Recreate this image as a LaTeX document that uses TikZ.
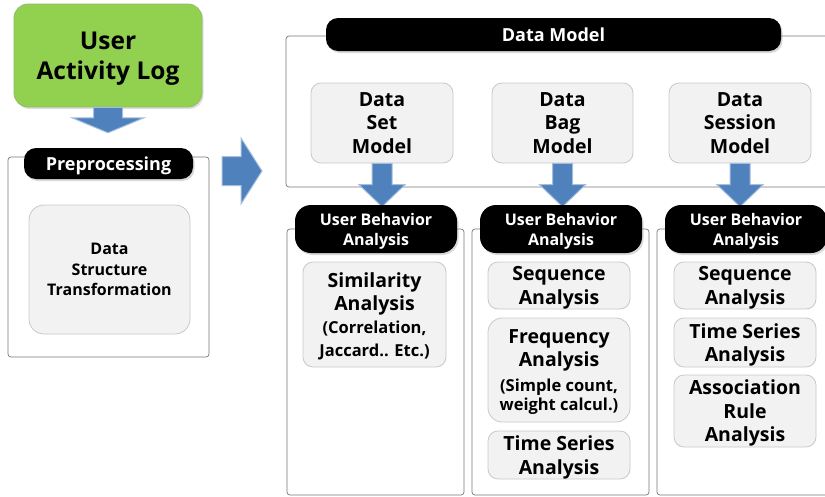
\documentclass[tikz,border=0pt]{standalone}
\usepackage{fontspec}
\setmainfont{Open Sans}
\usetikzlibrary{calc,shadows}
\definecolor{loggreen}{RGB}{146,208,80}
\definecolor{logedge}{RGB}{150,185,110}
\definecolor{arrowblue}{RGB}{79,129,189}
\definecolor{arrowedge}{RGB}{165,190,222}
\definecolor{itemfill}{RGB}{242,242,242}
\definecolor{itemedge}{RGB}{200,200,200}
\definecolor{frameedge}{RGB}{120,120,120}
% font sizes (1pt = 1px of the target)
\newcommand{\bigtxt}{\fontsize{24.5}{30}\selectfont\bfseries}
\newcommand{\boxtxt}{\fontsize{19.5}{23.5}\selectfont\bfseries}
\newcommand{\midtxt}{\fontsize{16}{20.5}\selectfont\bfseries}
\newcommand{\subtxt}{\fontsize{16.5}{20}\selectfont\bfseries}
% block arrows between nodes
\newcommand{\blockdown}[5]{%
  \path[blockarrow] let \p1=(#1), \p2=(#2) in
    (\x1-#3,\y1) -- (\x1+#3,\y1) -- (\x1+#3,\y2+#5) -- (\x1+#4,\y2+#5)
    -- (\x1,\y2) -- (\x1-#4,\y2+#5) -- (\x1-#3,\y2+#5) -- cycle;}
\newcommand{\blockright}[5]{%
  \path[blockarrow] let \p1=(#1), \p2=(#2) in
    (\x1,\y1+#3) -- (\x2-#5,\y1+#3) -- (\x2-#5,\y1+#4) -- (\x2,\y1)
    -- (\x2-#5,\y1-#4) -- (\x2-#5,\y1-#3) -- (\x1,\y1-#3) -- cycle;}
\tikzset{
  % green source box
  logbox/.style={draw=logedge, fill=loggreen, rounded corners=14pt,
    line width=0.8pt, inner sep=0pt, align=center, font=\bigtxt,
    text depth=0pt,
    drop shadow={opacity=0.25, shadow xshift=1.5pt, shadow yshift=-2pt}},
  % black title pills
  titlepill/.style={fill=black, text=white, rounded corners=12pt,
    inner sep=0pt, align=center, font=\fontsize{18}{21}\selectfont\bfseries,
    text depth=0pt,
    drop shadow={opacity=0.3, shadow xshift=1.5pt, shadow yshift=-2pt}},
  ubapill/.style={titlepill, rounded corners=16pt,
    font=\fontsize{16}{20}\selectfont\bfseries,
    minimum width=162pt, minimum height=48pt},
  % thin grey frames
  framebox/.style={draw=frameedge, rounded corners=3pt, line width=0.7pt,
    inner sep=0pt},
  % light grey item boxes
  itembox/.style={draw=itemedge, fill=itemfill, rounded corners=10pt,
    line width=0.8pt, inner sep=0pt, align=center, font=\boxtxt,
    text depth=0pt},
  blockarrow/.style={fill=arrowblue, draw=arrowedge, line width=1pt},
}
\begin{document}
\begin{tikzpicture}[x=1pt,y=-1pt]
\useasboundingbox (0,0) rectangle (825,496);

% left column
\node[logbox, minimum width=188pt, minimum height=103pt] (log) at (108,55.5) {User\\Activity Log};
\node[framebox, minimum width=201pt, minimum height=200pt] (preframe) at (108.5,257) {};
\node[titlepill, minimum width=169pt, minimum height=31pt] (prepill) at (108.5,163.5) {Preprocessing};
\node[itembox, rounded corners=15pt, font=\midtxt, minimum width=161pt, minimum height=129pt] (dst) at (109.5,269.5) {Data\\Structure\\Transformation};
\coordinate (logtip) at ($(prepill.north)+(0,-15)$);
\blockdown{log.south}{logtip}{14.5pt}{36pt}{15pt}

% data model
\node[framebox, minimum width=580pt, minimum height=151pt] (modelframe) at (576,111.5) {};
\node[titlepill, minimum width=455pt, minimum height=33pt] (modelpill) at (553.5,34.5) {Data Model};
\node[itembox, minimum width=142pt, minimum height=80pt] (dset) at (382,123) {Data\\Set\\Model};
\node[itembox, minimum width=141pt, minimum height=80pt] (dbag) at (562.5,123) {Data\\Bag\\Model};
\node[itembox, minimum width=142pt, minimum height=80pt] (dsess) at (740,123) {Data\\Session\\Model};
\coordinate (pretail) at (222,171);
\coordinate (modelhead) at (262,171);
\blockright{pretail}{modelhead}{14.5pt}{33pt}{21pt}

% analysis columns
\node[framebox, minimum width=177pt, minimum height=266pt] (frameset) at (375.5,362) {};
\node[framebox, minimum width=177pt, minimum height=266pt] (framebag) at (560.5,362) {};
\node[framebox, minimum width=203pt, minimum height=266pt] (framesess) at (758.5,362) {};
\coordinate (settip) at ($(frameset.north)+(0,-22)$);
\coordinate (bagtip) at ($(framebag.north)+(0,-22)$);
\coordinate (sesstip) at ($(framesess.north)+(0,-22)$);
\blockdown{dset.south}{settip}{10pt}{23pt}{22pt}
\blockdown{dbag.south}{bagtip}{10pt}{23pt}{22pt}
\blockdown{dsess.south}{sesstip}{10pt}{23pt}{22pt}
\node[ubapill] (pillset) at (376,229) {User Behavior\\Analysis};
\node[ubapill] (pillbag) at (561,229) {User Behavior\\Analysis};
\node[ubapill] (pillsess) at (746,229) {User Behavior\\Analysis};

\node[itembox, minimum width=143pt, minimum height=105pt] (sim) at (374.5,314.5) {Similarity\\Analysis\\[-1pt]\subtxt (Correlation,\\\subtxt Jaccard.. Etc.)};
\node[itembox, minimum width=142pt, minimum height=47pt] (seqbag) at (559,285.5) {Sequence\\Analysis};
\node[itembox, rounded corners=14pt, minimum width=142pt, minimum height=104pt] (freq) at (559,370) {Frequency\\Analysis\\[1pt]\subtxt (Simple count,\\[-4pt]\subtxt weight calcul.)};
\node[itembox, minimum width=142pt, minimum height=48pt] (tsbag) at (559,455) {Time Series\\Analysis};
\node[itembox, minimum width=142pt, minimum height=47pt] (seqsess) at (745,285.5) {Sequence\\Analysis};
\node[itembox, minimum width=142pt, minimum height=49pt] (tssess) at (745,342.5) {Time Series\\Analysis};
\node[itembox, minimum width=142pt, minimum height=72pt] (assoc) at (745,411) {Association\\Rule\\Analysis};
\end{tikzpicture}
\end{document}
